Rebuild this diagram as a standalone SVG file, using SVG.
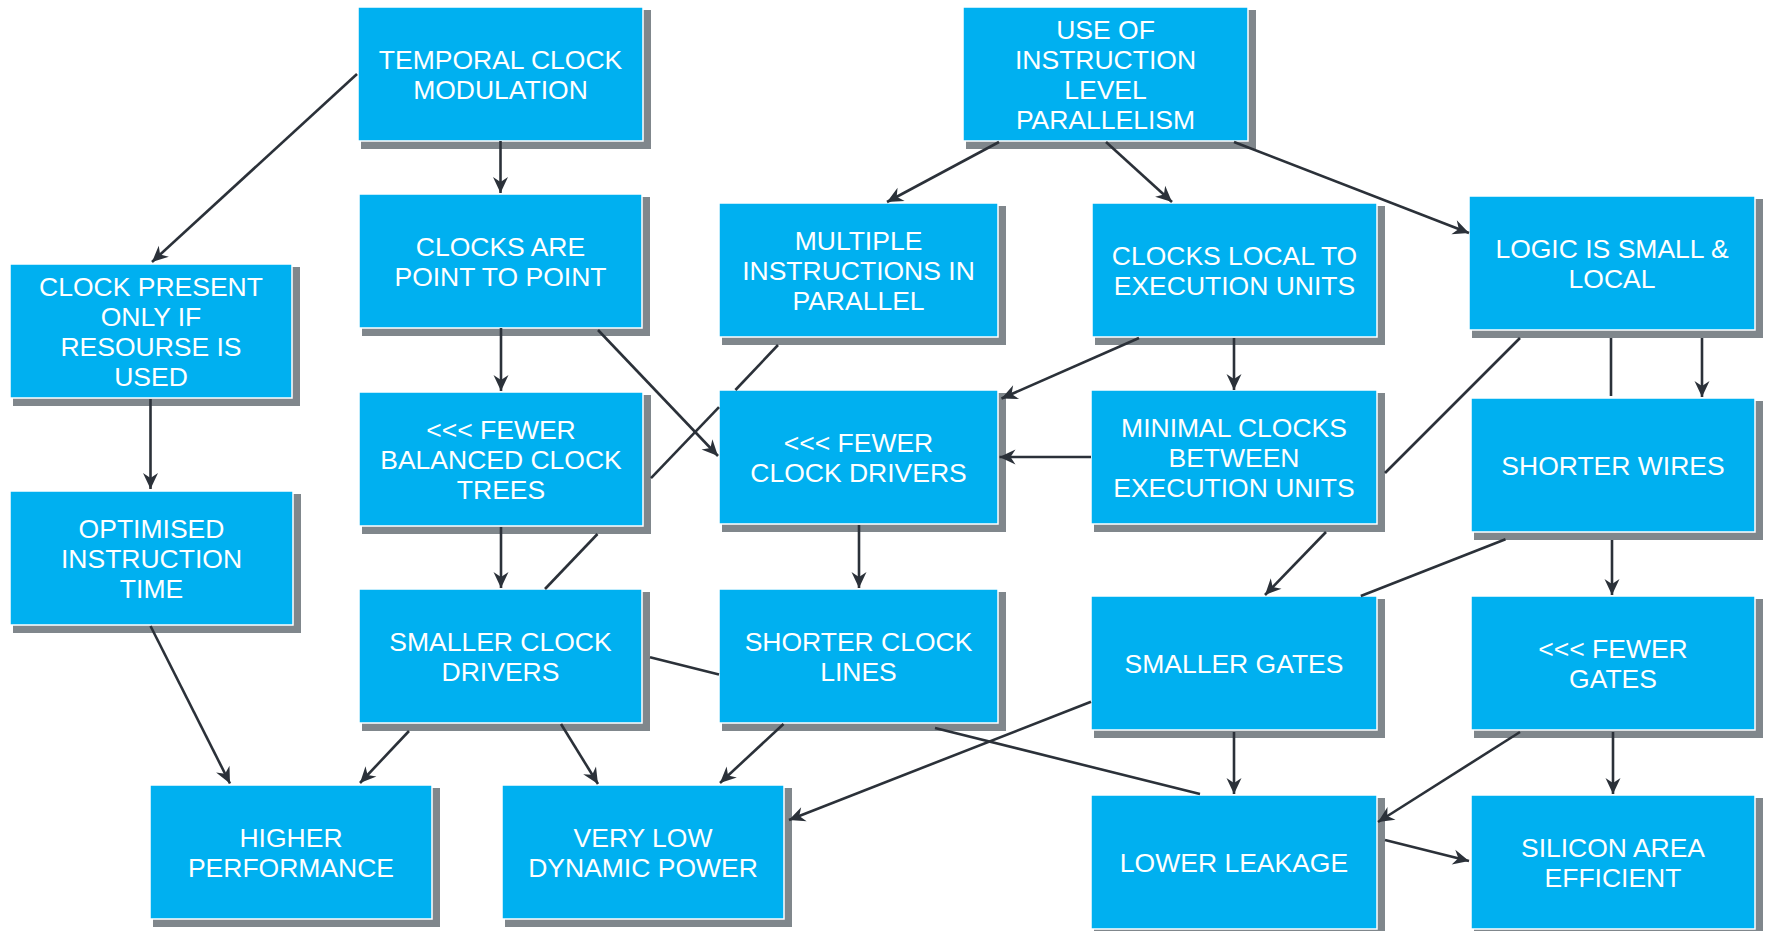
<svg xmlns="http://www.w3.org/2000/svg" width="1767" height="931" viewBox="0 0 1767 931">
  <style>
    .shadow { fill: #80878c; }
    .box { fill: #00b0f0; stroke: #ffffff; stroke-width: 1.5; }
    .label { font-family: "Liberation Sans", Arial, sans-serif; font-size: 26.5px; fill: #ffffff; text-anchor: middle; }
    .conn { stroke: #2b3139; stroke-width: 2.6; fill: none; }
    .arrow { marker-end: url(#head); }
  </style>
  <defs>
    <marker id="head" markerUnits="userSpaceOnUse" viewBox="-17 -8 18 16" markerWidth="18" markerHeight="16" refX="0" refY="0" orient="auto">
      <path d="M0,0 L-16,-7.5 L-11,0 L-16,7.5 Z" fill="#2b3139"/>
    </marker>
  </defs>
  <rect width="1767" height="931" fill="#ffffff"/>

  <!-- nodes: grey drop shadow, blue box, white caption -->
  <g id="temporal-clock-modulation">
    <rect class="shadow" x="361" y="10" width="290" height="139"/>
    <rect class="box" x="358" y="7" width="285" height="134"/>
    <text class="label" x="500.5" y="68.5"><tspan x="500.5">TEMPORAL CLOCK</tspan><tspan x="500.5" dy="30">MODULATION</tspan></text>
  </g>
  <g id="instruction-level-parallelism">
    <rect class="shadow" x="966" y="10" width="290" height="139"/>
    <rect class="box" x="963" y="7" width="285" height="134"/>
    <text class="label" x="1105.5" y="38.5"><tspan x="1105.5">USE OF</tspan><tspan x="1105.5" dy="30">INSTRUCTION</tspan><tspan x="1105.5" dy="30">LEVEL</tspan><tspan x="1105.5" dy="30">PARALLELISM</tspan></text>
  </g>
  <g id="clock-present-if-used">
    <rect class="shadow" x="13" y="267" width="287" height="139"/>
    <rect class="box" x="10" y="264" width="282" height="134"/>
    <text class="label" x="151" y="295.5"><tspan x="151">CLOCK PRESENT</tspan><tspan x="151" dy="30">ONLY IF</tspan><tspan x="151" dy="30">RESOURSE IS</tspan><tspan x="151" dy="30">USED</tspan></text>
  </g>
  <g id="clocks-point-to-point">
    <rect class="shadow" x="362" y="197" width="288" height="139"/>
    <rect class="box" x="359" y="194" width="283" height="134"/>
    <text class="label" x="500.5" y="255.5"><tspan x="500.5">CLOCKS ARE</tspan><tspan x="500.5" dy="30">POINT TO POINT</tspan></text>
  </g>
  <g id="multiple-instructions">
    <rect class="shadow" x="722" y="206" width="284" height="139"/>
    <rect class="box" x="719" y="203" width="279" height="134"/>
    <text class="label" x="858.5" y="249.5"><tspan x="858.5">MULTIPLE</tspan><tspan x="858.5" dy="30">INSTRUCTIONS IN</tspan><tspan x="858.5" dy="30">PARALLEL</tspan></text>
  </g>
  <g id="clocks-local">
    <rect class="shadow" x="1095" y="206" width="290" height="139"/>
    <rect class="box" x="1092" y="203" width="285" height="134"/>
    <text class="label" x="1234.5" y="264.5"><tspan x="1234.5">CLOCKS LOCAL TO</tspan><tspan x="1234.5" dy="30">EXECUTION UNITS</tspan></text>
  </g>
  <g id="logic-small-local">
    <rect class="shadow" x="1472" y="199" width="291" height="139"/>
    <rect class="box" x="1469" y="196" width="286" height="134"/>
    <text class="label" x="1612" y="257.5"><tspan x="1612">LOGIC IS SMALL &amp;</tspan><tspan x="1612" dy="30">LOCAL</tspan></text>
  </g>
  <g id="fewer-balanced-trees">
    <rect class="shadow" x="362" y="395" width="289" height="139"/>
    <rect class="box" x="359" y="392" width="284" height="134"/>
    <text class="label" x="501" y="438.5"><tspan x="501">&lt;&lt;&lt; FEWER</tspan><tspan x="501" dy="30">BALANCED CLOCK</tspan><tspan x="501" dy="30">TREES</tspan></text>
  </g>
  <g id="fewer-clock-drivers">
    <rect class="shadow" x="722" y="393" width="284" height="139"/>
    <rect class="box" x="719" y="390" width="279" height="134"/>
    <text class="label" x="858.5" y="451.5"><tspan x="858.5">&lt;&lt;&lt; FEWER</tspan><tspan x="858.5" dy="30">CLOCK DRIVERS</tspan></text>
  </g>
  <g id="minimal-clocks">
    <rect class="shadow" x="1094" y="393" width="291" height="139"/>
    <rect class="box" x="1091" y="390" width="286" height="134"/>
    <text class="label" x="1234" y="436.5"><tspan x="1234">MINIMAL CLOCKS</tspan><tspan x="1234" dy="30">BETWEEN</tspan><tspan x="1234" dy="30">EXECUTION UNITS</tspan></text>
  </g>
  <g id="shorter-wires">
    <rect class="shadow" x="1474" y="401" width="289" height="139"/>
    <rect class="box" x="1471" y="398" width="284" height="134"/>
    <text class="label" x="1613" y="474.5">SHORTER WIRES</text>
  </g>
  <g id="optimised-instruction-time">
    <rect class="shadow" x="13" y="494" width="288" height="139"/>
    <rect class="box" x="10" y="491" width="283" height="134"/>
    <text class="label" x="151.5" y="537.5"><tspan x="151.5">OPTIMISED</tspan><tspan x="151.5" dy="30">INSTRUCTION</tspan><tspan x="151.5" dy="30">TIME</tspan></text>
  </g>
  <g id="smaller-clock-drivers">
    <rect class="shadow" x="362" y="592" width="288" height="139"/>
    <rect class="box" x="359" y="589" width="283" height="134"/>
    <text class="label" x="500.5" y="650.5"><tspan x="500.5">SMALLER CLOCK</tspan><tspan x="500.5" dy="30">DRIVERS</tspan></text>
  </g>
  <g id="shorter-clock-lines">
    <rect class="shadow" x="722" y="592" width="284" height="139"/>
    <rect class="box" x="719" y="589" width="279" height="134"/>
    <text class="label" x="858.5" y="650.5"><tspan x="858.5">SHORTER CLOCK</tspan><tspan x="858.5" dy="30">LINES</tspan></text>
  </g>
  <g id="smaller-gates">
    <rect class="shadow" x="1094" y="599" width="291" height="139"/>
    <rect class="box" x="1091" y="596" width="286" height="134"/>
    <text class="label" x="1234" y="672.5">SMALLER GATES</text>
  </g>
  <g id="fewer-gates">
    <rect class="shadow" x="1474" y="599" width="289" height="139"/>
    <rect class="box" x="1471" y="596" width="284" height="134"/>
    <text class="label" x="1613" y="657.5"><tspan x="1613">&lt;&lt;&lt; FEWER</tspan><tspan x="1613" dy="30">GATES</tspan></text>
  </g>
  <g id="higher-performance">
    <rect class="shadow" x="153" y="788" width="287" height="139"/>
    <rect class="box" x="150" y="785" width="282" height="134"/>
    <text class="label" x="291" y="846.5"><tspan x="291">HIGHER</tspan><tspan x="291" dy="30">PERFORMANCE</tspan></text>
  </g>
  <g id="very-low-dynamic-power">
    <rect class="shadow" x="505" y="788" width="287" height="139"/>
    <rect class="box" x="502" y="785" width="282" height="134"/>
    <text class="label" x="643" y="846.5"><tspan x="643">VERY LOW</tspan><tspan x="643" dy="30">DYNAMIC POWER</tspan></text>
  </g>
  <g id="lower-leakage">
    <rect class="shadow" x="1094" y="798" width="291" height="139"/>
    <rect class="box" x="1091" y="795" width="286" height="134"/>
    <text class="label" x="1234" y="871.5">LOWER LEAKAGE</text>
  </g>
  <g id="silicon-area-efficient">
    <rect class="shadow" x="1474" y="798" width="289" height="139"/>
    <rect class="box" x="1471" y="795" width="284" height="134"/>
    <text class="label" x="1613" y="856.5"><tspan x="1613">SILICON AREA</tspan><tspan x="1613" dy="30">EFFICIENT</tspan></text>
  </g>

  <!-- connectors; lines that run behind boxes are drawn as their visible pieces -->
  <g id="connectors" class="conn">
    <path class="arrow" d="M357,74 L152,262"/>
    <path class="arrow" d="M500.5,141 L500.5,193"/>
    <path class="arrow" d="M150.5,399 L150.5,489"/>
    <path class="arrow" d="M150.5,626 L230,783.5"/>
    <path class="arrow" d="M501,328 L501,391"/>
    <path class="arrow" d="M598,330 L718,456"/>
    <path class="arrow" d="M501,527 L501,588"/>
    <path class="arrow" d="M999,142 L887,202"/>
    <path class="arrow" d="M1106,142 L1172,202"/>
    <path class="arrow" d="M1234,142 L1469,233"/>
    <path class="arrow" d="M1139,338 L1001.5,398.5"/>
    <path class="arrow" d="M1234,338 L1234,390"/>
    <path class="arrow" d="M1091,457 L999.5,457"/>
    <path class="arrow" d="M859,525 L859,588"/>
    <path class="arrow" d="M1702,338 L1702,397"/>
    <path class="arrow" d="M1612,540 L1612,595"/>
    <path class="arrow" d="M409,731 L360,783"/>
    <path class="arrow" d="M561,724 L598,784"/>
    <path class="arrow" d="M783.5,724 L720,783"/>
    <path class="arrow" d="M1234,732 L1234,794"/>
    <path class="arrow" d="M1520,732 L1378,822"/>
    <path class="arrow" d="M1613,732 L1613,794"/>
    <path d="M1611,338 L1611,396"/>
    <!-- multiple instructions to smaller clock drivers -->
    <path d="M778,345 L735.4,390"/>
    <path d="M719,407.2 L651,478.2"/>
    <path d="M597.5,534 L545,589"/>
    <!-- logic small & local to smaller gates -->
    <path d="M1520,338 L1385,473"/>
    <path class="arrow" d="M1326,532 L1265,595"/>
    <!-- shorter wires to very low dynamic power -->
    <path d="M1505.5,539.3 L1360.8,596"/>
    <path class="arrow" d="M1091,701.7 L789,820"/>
    <!-- smaller clock drivers to silicon area efficient -->
    <path d="M650,657.3 L719,674.4"/>
    <path d="M935,728 L1200,794"/>
    <path class="arrow" d="M1385,840 L1469,861"/>
  </g>
</svg>
